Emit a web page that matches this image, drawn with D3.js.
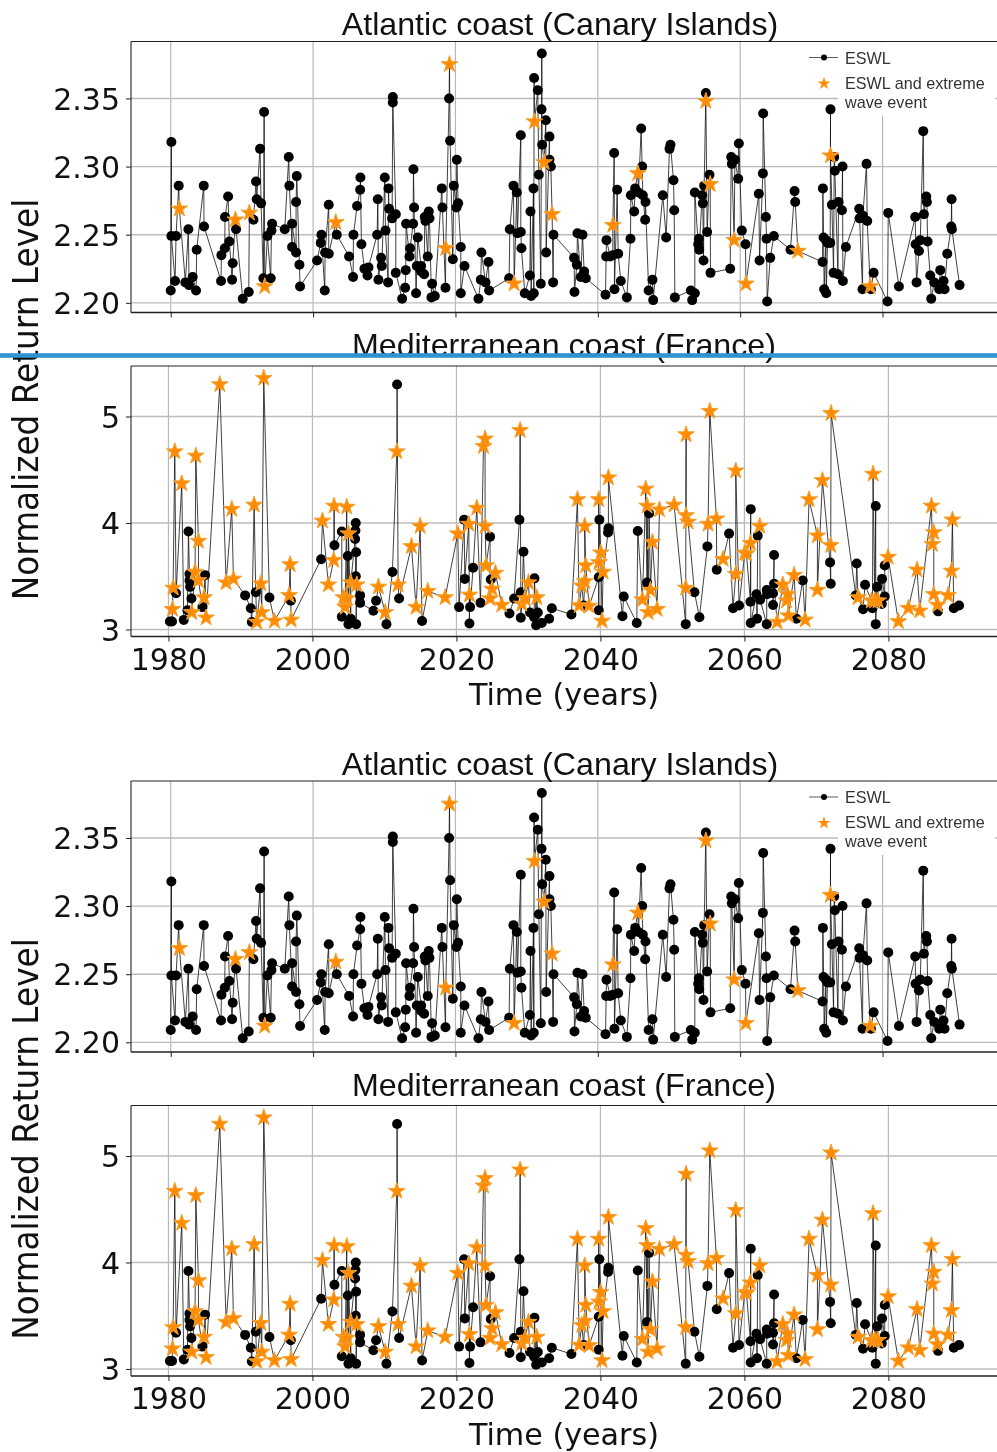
<!DOCTYPE html>
<html><head><meta charset="utf-8">
<script src="https://cdn.jsdelivr.net/npm/d3@7"></script>
<style>html,body{margin:0;padding:0;background:#fff}svg{display:block;filter:blur(0.3px)}</style>
</head><body><div id="chart"></div>
<script>
const xTicks=[1980,2000,2020,2040,2060,2080];
const atlanticTicks=[2.20,2.25,2.30,2.35];
const medTicks=[3,4,5];
const titles=["Atlantic coast (Canary Islands)","Mediterranean coast (France)"];
const atlanticEswl=[[1980,2.209],[1980.09,2.318],[1980.09,2.249],[1980.61,2.216],[1980.75,2.249],[1981.12,2.286],[1982.06,2.215],[1982.48,2.254],[1982.58,2.213],[1983.09,2.219],[1983.56,2.209],[1983.65,2.239],[1984.64,2.286],[1984.68,2.256],[1987.07,2.216],[1987.12,2.235],[1987.59,2.24],[1987.63,2.263],[1988.06,2.278],[1988.24,2.245],[1988.62,2.217],[1988.71,2.229],[1989.18,2.254],[1990.12,2.203],[1990.96,2.208],[1991.62,2.261],[1991.99,2.289],[1992.08,2.276],[1992.55,2.313],[1992.69,2.273],[1993.02,2.218],[1993.12,2.34],[1993.58,2.249],[1994.05,2.218],[1994.15,2.253],[1994.24,2.258],[1996.02,2.254],[1996.58,2.307],[1996.67,2.286],[1997.05,2.241],[1997.05,2.258],[1997.61,2.237],[1997.61,2.274],[1997.71,2.293],[1998.08,2.228],[1998.17,2.212],[2000.56,2.231],[2001.08,2.244],[2001.17,2.25],[2001.64,2.209],[2001.69,2.237],[2002.2,2.272],[2002.2,2.236],[2003.33,2.25],[2005.06,2.234],[2005.62,2.219],[2005.67,2.25],[2006.18,2.271],[2006.61,2.283],[2006.65,2.292],[2006.79,2.243],[2007.21,2.225],[2007.64,2.22],[2007.78,2.226],[2009,2.25],[2009.09,2.276],[2009.18,2.217],[2009.56,2.233],[2009.65,2.227],[2010.07,2.292],[2010.17,2.253],[2010.54,2.215],[2010.59,2.284],[2010.68,2.269],[2011.1,2.262],[2011.2,2.351],[2011.2,2.347],[2011.62,2.265],[2011.62,2.222],[2012.51,2.203],[2012.93,2.211],[2013.02,2.224],[2013.07,2.258],[2013.54,2.234],[2013.63,2.24],[2014.05,2.258],[2014.1,2.298],[2014.19,2.27],[2014.47,2.207],[2014.57,2.227],[2014.71,2.248],[2015.18,2.227],[2015.18,2.223],[2015.6,2.221],[2015.69,2.263],[2015.79,2.26],[2016.11,2.234],[2016.25,2.267],[2016.35,2.262],[2016.63,2.204],[2016.72,2.214],[2017.1,2.205],[2018.08,2.284],[2018.17,2.27],[2018.6,2.211],[2019.11,2.35],[2019.25,2.319],[2019.63,2.232],[2019.77,2.286],[2020.14,2.27],[2020.19,2.305],[2020.38,2.273],[2020.75,2.241],[2020.75,2.207],[2021.27,2.227],[2023.23,2.203],[2023.56,2.217],[2023.65,2.237],[2024.22,2.215],[2024.64,2.23],[2024.73,2.209],[2027.54,2.218],[2027.64,2.254],[2028.15,2.286],[2028.62,2.281],[2028.71,2.251],[2029.18,2.323],[2029.18,2.252],[2029.27,2.24],[2029.74,2.207],[2030.45,2.22],[2030.54,2.267],[2030.63,2.205],[2030.96,2.284],[2031.01,2.207],[2031.05,2.365],[2031.57,2.356],[2031.71,2.294],[2031.99,2.214],[2032.09,2.342],[2032.13,2.383],[2032.18,2.316],[2032.69,2.334],[2032.74,2.237],[2033.21,2.322],[2033.21,2.305],[2033.4,2.3],[2033.72,2.215],[2033.77,2.25],[2036.67,2.233],[2036.72,2.208],[2037.05,2.228],[2037.14,2.251],[2037.61,2.219],[2037.85,2.25],[2038.08,2.223],[2038.31,2.218],[2041.08,2.206],[2041.17,2.234],[2041.22,2.246],[2041.73,2.234],[2042.11,2.235],[2042.3,2.31],[2042.34,2.21],[2042.72,2.283],[2042.86,2.236],[2043.23,2.216],[2044.08,2.204],[2044.59,2.247],[2044.64,2.279],[2045.11,2.267],[2045.25,2.284],[2045.71,2.281],[2046.09,2.328],[2046.23,2.3],[2046.32,2.279],[2046.65,2.261],[2046.7,2.274],[2047.14,2.209],[2047.68,2.217],[2047.78,2.202],[2049.13,2.279],[2049.6,2.248],[2050.07,2.313],[2050.21,2.316],[2050.63,2.29],[2050.73,2.268],[2050.82,2.204],[2053.07,2.209],[2053.26,2.202],[2053.63,2.207],[2053.63,2.281],[2054.1,2.243],[2054.19,2.247],[2054.24,2.239],[2054.66,2.279],[2054.75,2.273],[2054.85,2.231],[2054.94,2.286],[2055.18,2.354],[2055.36,2.252],[2055.69,2.294],[2055.83,2.222],[2058.6,2.225],[2058.74,2.307],[2058.83,2.302],[2059.25,2.305],[2059.72,2.291],[2059.81,2.317],[2060.23,2.253],[2060.75,2.243],[2062.62,2.28],[2062.72,2.231],[2063.19,2.295],[2063.23,2.339],[2063.61,2.263],[2063.7,2.247],[2063.79,2.201],[2064.22,2.233],[2064.73,2.249],[2067.07,2.239],[2067.64,2.282],[2067.73,2.274],[2071.57,2.23],[2071.62,2.284],[2071.71,2.248],[2071.8,2.21],[2072.04,2.246],[2072.09,2.207],[2072.27,2.244],[2072.65,2.244],[2072.69,2.342],[2072.88,2.272],[2073.12,2.222],[2073.21,2.307],[2073.3,2.297],[2073.73,2.221],[2073.82,2.274],[2074.29,2.268],[2074.38,2.3],[2074.43,2.216],[2074.85,2.241],[2076.72,2.269],[2076.77,2.262],[2077.19,2.21],[2077.24,2.264],[2077.75,2.302],[2077.85,2.26],[2078.36,2.21],[2078.74,2.222],[2080.7,2.201],[2080.8,2.266],[2082.3,2.212],[2084.59,2.263],[2084.64,2.243],[2084.78,2.215],[2085.11,2.238],[2085.3,2.246],[2085.72,2.326],[2085.81,2.265],[2086.14,2.278],[2086.23,2.274],[2086.33,2.245],[2086.7,2.22],[2086.84,2.203],[2087.26,2.215],[2087.96,2.21],[2088.11,2.224],[2088.57,2.216],[2088.71,2.21],[2089.09,2.236],[2089.65,2.256],[2089.7,2.276],[2089.74,2.254],[2090.82,2.213]];
const atlanticStars=[[1981.22,2.269],[1989.09,2.261],[1991.05,2.266],[1993.21,2.212],[2003.19,2.259],[2018.64,2.24],[2019.16,2.375],[2028.25,2.214],[2031.1,2.333],[2032.46,2.303],[2033.58,2.265],[2042.11,2.257],[2045.62,2.295],[2055.18,2.348],[2055.79,2.287],[2059.16,2.246],[2060.8,2.214],[2068.1,2.238],[2072.69,2.308],[2078.27,2.212]];
const medEswl=[[1980.2,3.075],[1980.5,3.075],[1981.06,3.34],[1982.13,3.09],[1982.64,3.18],[1982.78,3.92],[1982.92,3.52],[1982.92,3.46],[1983.01,3.4],[1983.19,3.29],[1984.72,3.21],[1985.09,3.51],[1990.65,3.32],[1991.44,3.2],[1991.58,3.07],[1992.13,3.35],[1994.03,3.3],[1997,3.27],[2001.21,3.66],[2003.06,3.79],[2004.08,3.92],[2004.08,3.12],[2004.91,3.69],[2005,3.05],[2005.33,3.1],[2005.93,3.85],[2005.97,3.93],[2006.02,4],[2006.02,3.5],[2006.07,3.725],[2006.07,3.05],[2006.62,3.32],[2006.62,3.25],[2008.47,3.175],[2008.84,3.27],[2010.28,3.05],[2011.11,3.54],[2011.76,5.3],[2012.04,3.29],[2015.23,3.08],[2020.37,3.21],[2021.07,4.03],[2021.16,3.475],[2021.81,3.056],[2021.9,3.21],[2022.32,3.58],[2023.34,3.25],[2024.68,3.87],[2024.77,3.47],[2027.37,3.15],[2028.01,3.29],[2028.75,4.03],[2028.94,3.35],[2028.94,3.11],[2029.31,3.73],[2030.23,3.16],[2030.79,3.115],[2030.84,3.48],[2031.07,3.04],[2031.3,3.16],[2031.86,3.06],[2032.88,3.1],[2033.25,3.2],[2035.97,3.14],[2037.68,3.225],[2039.77,3.49],[2039.77,3.18],[2039.86,4.03],[2041.06,3.91],[2041.11,3.95],[2043.06,3.125],[2043.24,3.31],[2045.05,3.06],[2045.19,3.925],[2046.48,3.44],[2046.76,4.09],[2051.85,3.05],[2053.06,3.35],[2053.75,3.115],[2054.86,3.78],[2056.16,3.56],[2057.87,3.9],[2058.42,3.2],[2059.26,3.225],[2060.84,3.26],[2060.88,4.13],[2060.88,3.06],[2061.67,3.33],[2061.76,3.1],[2061.85,3.88],[2062.18,3.28],[2063.1,3.05],[2063.1,3.37],[2063.15,3.33],[2063.98,3.34],[2063.98,3.23],[2064.12,3.7],[2064.12,3.43],[2067.22,3.1],[2068.1,3.46],[2071.9,3.63],[2071.99,3.43],[2075.47,3.32],[2075.6,3.62],[2076.48,3.19],[2076.76,3.42],[2077.78,3.2],[2078.24,4.16],[2078.24,3.05],[2078.43,3.4],[2079.08,3.24],[2079.12,3.475],[2079.49,3.31],[2079.49,3.6],[2086.9,3.17],[2089.08,3.2],[2089.82,3.225]];
const medStars=[[1980.56,3.19],[1980.65,3.39],[1980.88,4.67],[1981.85,4.37],[1983.24,3.16],[1983.7,3.54],[1983.8,4.63],[1984.17,3.83],[1984.17,3.46],[1984.95,3.3],[1985.23,3.11],[1987.13,5.3],[1988.01,3.44],[1988.8,4.13],[1989.03,3.475],[1991.9,4.17],[1992.27,3.07],[1992.83,3.43],[1992.96,3.16],[1993.24,5.36],[1994.72,3.08],[1996.76,3.32],[1996.9,3.61],[1997.04,3.09],[2001.39,4.02],[2002.22,3.42],[2002.96,3.65],[2003.01,4.16],[2004.31,3.3],[2004.54,3.21],[2004.77,4.15],[2004.77,3.29],[2005,3.9],[2005.33,3.44],[2006.16,3.42],[2009.17,3.4],[2010.1,3.16],[2011.72,4.67],[2011.9,3.42],[2013.75,3.78],[2014.4,3.21],[2014.96,3.97],[2016.02,3.36],[2018.43,3.3],[2020.19,3.9],[2021.72,3.99],[2021.81,3.325],[2022.83,4.14],[2023.76,4.72],[2023.98,4.79],[2023.98,3.97],[2024.12,3.6],[2024.68,3.29],[2024.96,3.38],[2025.42,3.53],[2026.3,3.23],[2028.85,4.87],[2029.08,3.24],[2029.54,3.29],[2030,3.44],[2031.16,3.3],[2036.81,4.22],[2037.05,3.225],[2037.41,3.41],[2037.82,3.45],[2037.82,3.97],[2037.96,3.6],[2038.43,3.22],[2039.77,4.22],[2039.81,3.63],[2040.05,3.72],[2040.23,3.08],[2040.37,3.54],[2041.11,4.425],[2045.83,3.28],[2046.3,4.32],[2046.48,4.16],[2046.62,3.16],[2046.95,3.37],[2047.22,3.82],[2047.87,3.19],[2048.2,4.125],[2050.23,4.17],[2051.85,3.39],[2051.9,4.83],[2051.9,4.07],[2052.18,4.01],[2054.95,3.99],[2055.19,5.05],[2056.11,4.04],[2057.04,3.66],[2058.8,3.52],[2058.8,4.49],[2060.05,3.72],[2060.28,3.71],[2060.84,3.81],[2062.13,3.97],[2064.54,3.07],[2065.33,3.42],[2065.84,3.27],[2065.98,3.33],[2066.11,3.13],[2066.9,3.51],[2068.43,3.09],[2068.98,4.22],[2070.14,3.88],[2070.14,3.37],[2070.84,4.4],[2071.99,3.79],[2072.04,5.03],[2075.79,3.3],[2077.64,3.27],[2077.87,4.46],[2078.1,3.27],[2078.57,3.27],[2079.96,3.68],[2081.39,3.075],[2082.78,3.2],[2083.98,3.56],[2084.35,3.175],[2085.98,4.16],[2086.11,3.8],[2086.3,3.91],[2086.3,3.33],[2086.81,3.23],[2088.29,3.32],[2088.75,3.55],[2088.89,4.03]];

const W=997,H=1452,SANS='"DejaVu Sans",sans-serif',LEG='"Liberation Sans",Arial,sans-serif';
const svg=d3.select("#chart").append("svg").attr("width",W).attr("height",H).attr("viewBox",`0 0 ${W} ${H}`);
const star=r=>d3.symbol(d3.symbolStar,r*r/0.8908)();

function panel(g,top,bottom,xDom,yDom,yTicks,yFmt,eswl,stars,title,titleX,titleGap,showX,legend){
  const x=d3.scaleLinear().domain(xDom).range([131,1000]);
  const y=d3.scaleLinear().domain(yDom).range([bottom,top]);
  const p=g.append("g");
  const gr=p.append("g");
  gr.selectAll(".v").data(xTicks).join("line").attr("x1",d=>x(d)).attr("x2",d=>x(d)).attr("y1",top).attr("y2",bottom).attr("stroke","#b8b8b8").attr("stroke-width",1.2);
  gr.selectAll(".h").data(yTicks).join("line").attr("x1",131).attr("x2",1000).attr("y1",d=>y(d)).attr("y2",d=>y(d)).attr("stroke","#bcbcbc").attr("stroke-width",1.4);
  if(legend){
    p.append("rect").attr("x",838).attr("y",top+1).attr("width",157).attr("height",73).attr("fill","#fff");
  }
  const all=eswl.concat(stars).slice().sort((a,b)=>d3.ascending(a[0],b[0]));
  p.append("path").attr("d",d3.line().x(d=>x(d[0])).y(d=>y(d[1]))(all)).attr("fill","none").attr("stroke","#111").attr("stroke-width",0.8);
  p.append("g").selectAll("circle").data(eswl).join("circle").attr("cx",d=>x(d[0])).attr("cy",d=>y(d[1])).attr("r",5).attr("fill","#000");
  p.append("g").selectAll("path").data(stars).join("path").attr("d",star(8.8)).attr("transform",d=>`translate(${x(d[0])},${y(d[1])})`).attr("fill","#ff8c00").attr("stroke","#f5a030").attr("stroke-width",1);
  const ax=p.append("g").attr("transform",`translate(0,${bottom})`).call(d3.axisBottom(x).tickValues(xTicks).tickSize(5).tickPadding(7).tickFormat(showX?d3.format("d"):""));
  const ay=p.append("g").attr("transform","translate(131,0)").call(d3.axisLeft(y).tickValues(yTicks).tickSize(5).tickPadding(6).tickFormat(yFmt));
  [ax,ay].forEach(a=>{a.selectAll("text").attr("font-family",SANS).attr("font-size",30).attr("fill","#111");
    a.selectAll("line").attr("stroke","#222").attr("stroke-width",1);a.select(".domain").remove();});
  ay.selectAll("text").attr("transform","translate(0,1)");
  p.append("line").attr("x1",131).attr("x2",1000).attr("y1",top).attr("y2",top).attr("stroke","#222").attr("stroke-width",1.1);
  p.append("line").attr("x1",131).attr("x2",1000).attr("y1",bottom).attr("y2",bottom).attr("stroke","#222").attr("stroke-width",1.3);
  p.append("line").attr("x1",131).attr("x2",131).attr("y1",top).attr("y2",bottom).attr("stroke","#222").attr("stroke-width",1.1);
  p.append("text").attr("x",titleX).attr("y",top-titleGap).attr("text-anchor","middle").attr("font-family",LEG).attr("font-size",32.2).attr("fill","#111").text(title);
  if(legend){
    const l=p.append("g").attr("font-family",LEG).attr("font-size",16.2).attr("fill","#333");
    l.append("line").attr("x1",809).attr("x2",838).attr("y1",top+16).attr("y2",top+16).attr("stroke","#333").attr("stroke-width",0.8);
    l.append("circle").attr("cx",824).attr("cy",top+16).attr("r",3).attr("fill","#000");
    l.append("path").attr("d",star(6.8)).attr("transform",`translate(824,${top+42})`).attr("fill","#ff8c00");
    l.append("text").attr("x",845).attr("y",top+22).text("ESWL");
    l.append("text").attr("x",845).attr("y",top+47).text("ESWL and extreme");
    l.append("text").attr("x",845).attr("y",top+66).text("wave event");
  }
}
function figure(off){
  const g=svg.append("g");
  panel(g,41.5+off,312.5+off,[1974.42,2096.5],[2.1929,2.3918],atlanticTicks,d3.format(".2f"),atlanticEswl,atlanticStars,titles[0],560,6.3,false,true);
  panel(g,366+off,636.5+off,[1974.8,2095.5],[2.934,5.474],medTicks,d3.format("d"),medEswl,medStars,titles[1],564,10,true,false);
  g.append("text").attr("x",564).attr("y",705+off).attr("text-anchor","middle").attr("font-family",SANS).attr("font-size",30.2).attr("fill","#111").text("Time (years)");
  g.append("text").attr("transform",`translate(38,${399.5+off}) rotate(-90) scale(0.92,1)`).attr("text-anchor","middle").attr("font-family",SANS).attr("font-size",35.6).attr("fill","#111").text("Normalized Return Level");
}
figure(0);
figure(739.5);
svg.append("rect").attr("x",0).attr("y",353.2).attr("width",W).attr("height",4.6).attr("fill","#2f93d1");
</script></body></html>
